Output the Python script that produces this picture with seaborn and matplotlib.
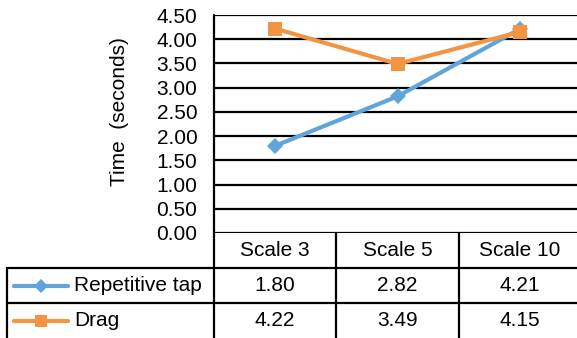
import numpy as np
import pandas as pd
import matplotlib
matplotlib.use("Agg")
import matplotlib.pyplot as plt
from matplotlib.lines import Line2D
import seaborn as sns

# Data
scales = ["Scale 3", "Scale 5", "Scale 10"]
repetitive_tap = [1.80, 2.82, 4.21]
drag = [4.22, 3.49, 4.15]
series_names = ["Repetitive tap", "Drag"]
y_ticks = [0.0, 0.5, 1.0, 1.5, 2.0, 2.5, 3.0, 3.5, 4.0, 4.5]

colors = {"Repetitive tap": "#5FA5DC", "Drag": "#F39443"}
markers = {"Repetitive tap": "D", "Drag": "s"}
marker_sizes = {"Repetitive tap": 8.0, "Drag": 9.5}

sns.set_theme(style="white")
plt.rcParams["font.family"] = ["Liberation Sans", "DejaVu Sans"]
FS = 15

df = pd.DataFrame({
    "scale": scales * 2,
    "time": repetitive_tap + drag,
    "method": [series_names[0]] * 3 + [series_names[1]] * 3,
})

W, H = 577, 338
fig = plt.figure(figsize=(W / 100, H / 100), dpi=100)
ax_l, ax_b, ax_w, ax_h = 214, 105, 367, 218
ax = fig.add_axes([ax_l / W, ax_b / H, ax_w / W, ax_h / H])

sns.lineplot(
    data=df, x="scale", y="time", hue="method", style="method",
    hue_order=series_names, style_order=series_names,
    palette=colors, markers=markers, dashes=False, sort=False,
    linewidth=3.0, markeredgewidth=0, legend=False, ax=ax,
)
for line, name in zip(ax.get_lines(), series_names):
    line.set_markersize(marker_sizes[name])

ax.set_xlim(-0.5, len(scales) - 0.5)
ax.set_ylim(0, 4.5)
ax.set_yticks(y_ticks)
ax.set_yticklabels([f"{t:.2f}" for t in y_ticks], fontsize=FS, color="black")
ax.tick_params(axis="y", length=0, pad=12)
ax.set_xticks([])
ax.set_xlabel("")
ax.set_ylabel("Time  (seconds)", fontsize=FS, color="black")
ax.yaxis.set_label_coords((129 - ax_l) / ax_w, (233 - 112) / ax_h)

for s in ["top", "right", "bottom", "left"]:
    ax.spines[s].set_visible(False)

lw = 1.6
for t in y_ticks:
    ax.axhline(t, color="black", lw=lw, zorder=1)

# Data table under the plot
row_h = 35 / ax_h
xtr = ax.get_xaxis_transform()
leg_left = (7 - ax_l) / ax_w
far = 1.2

# left plot border continues through the table
ax.add_line(Line2D([0, 0], [1, -0.6], transform=ax.transAxes,
                   color="black", lw=lw, clip_on=False))
# column separators
for b in np.arange(0.5, len(scales) - 0.5, 1.0):
    ax.add_line(Line2D([b, b], [0, -0.6], transform=xtr,
                       color="black", lw=lw, clip_on=False))
# row separators
for k in (1, 2):
    ax.add_line(Line2D([leg_left, far], [-k * row_h, -k * row_h],
                       transform=ax.transAxes, color="black", lw=lw,
                       clip_on=False))
ax.add_line(Line2D([leg_left, leg_left], [-row_h, -0.6],
                   transform=ax.transAxes, color="black", lw=lw,
                   clip_on=False))

# header
for i, s in enumerate(scales):
    ax.text(i, -0.5 * row_h, s, transform=xtr, ha="center", va="center",
            fontsize=FS, color="black")

# rows
for r, (name, vals) in enumerate(zip(series_names, [repetitive_tap, drag])):
    yc = -(1.5 + r) * row_h
    for i, v in enumerate(vals):
        ax.text(i, yc, f"{v:.2f}", transform=xtr, ha="center", va="center",
                fontsize=FS, color="black")
    x0, x1 = (14 - ax_l) / ax_w, (68 - ax_l) / ax_w
    ax.add_line(Line2D([x0, x1], [yc, yc], transform=ax.transAxes,
                       color=colors[name], lw=3.0, clip_on=False))
    ax.add_line(Line2D([(x0 + x1) / 2], [yc], transform=ax.transAxes,
                       marker=markers[name], markersize=marker_sizes[name] * 0.85,
                       markeredgewidth=0, color=colors[name], clip_on=False))
    ax.text((74 - ax_l) / ax_w, yc, name, transform=ax.transAxes,
            ha="left", va="center", fontsize=FS, color="black")

fig.savefig("out.png", dpi=100)
